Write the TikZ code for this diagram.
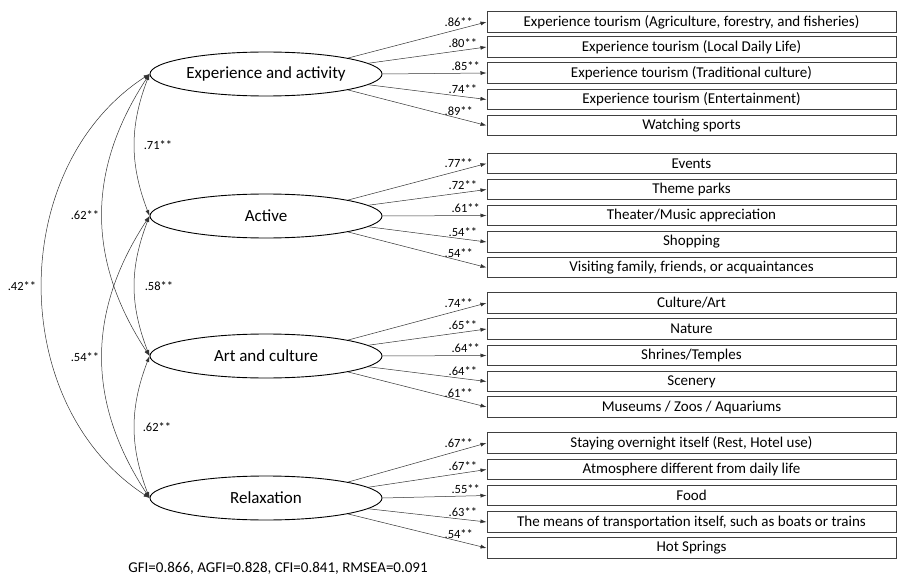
\documentclass[tikz,border=0pt]{standalone}
\usepackage{fontspec}
\setmainfont{Carlito}
\usetikzlibrary{arrows.meta,shapes.geometric}
\begin{document}
\begin{tikzpicture}[x=1pt,y=-1pt,
  latent/.style={ellipse,draw=black,line width=0.9pt,minimum width=232pt,minimum height=44pt,inner sep=0pt,font=\fontsize{17}{20}\selectfont},
  item/.style={rectangle,draw=black!75,line width=1pt,minimum width=409pt,minimum height=20.5pt,inner sep=0pt,font=\fontsize{15}{17}\selectfont},
  load/.style={draw=black!80,line width=0.5pt,-{Latex[length=6pt,width=4pt]}},
  corr/.style={draw=black!80,line width=0.5pt,{Latex[length=6pt,width=4pt]}-{Latex[length=6pt,width=4pt]}},
  coef/.style={font=\fontsize{12.5}{14}\selectfont,inner sep=1pt},
]
\useasboundingbox (0,0) rectangle (897,575);

% latent variables
\node[latent] (E1) at (266,74)  {Experience and activity};
\node[latent] (E2) at (266,216) {Active};
\node[latent] (E3) at (266,356) {Art and culture};
\node[latent] (E4) at (266,498) {Relaxation};

% observed items
\node[item] (b11) at (691.5,22)    {Experience tourism (Agriculture, forestry, and fisheries)};
\node[item] (b12) at (691.5,47)    {Experience tourism (Local Daily Life)};
\node[item] (b13) at (691.5,73)    {Experience tourism (Traditional culture)};
\node[item] (b14) at (691.5,99.5)  {Experience tourism (Entertainment)};
\node[item] (b15) at (691.5,125.5) {Watching sports};

\node[item] (b21) at (691.5,163.5) {Events};
\node[item] (b22) at (691.5,189.5) {Theme parks};
\node[item] (b23) at (691.5,215.5) {Theater/Music appreciation};
\node[item] (b24) at (691.5,242)   {Shopping};
\node[item] (b25) at (691.5,267.5) {Visiting family, friends, or acquaintances};

\node[item] (b31) at (691.5,303)   {Culture/Art};
\node[item] (b32) at (691.5,329)   {Nature};
\node[item] (b33) at (691.5,355.5) {Shrines/Temples};
\node[item] (b34) at (691.5,381.5) {Scenery};
\node[item] (b35) at (691.5,407)   {Museums / Zoos / Aquariums};

\node[item] (b41) at (691.5,443)   {Staying overnight itself (Rest, Hotel use)};
\node[item] (b42) at (691.5,469.5) {Atmosphere different from daily life};
\node[item] (b43) at (691.5,495.5) {Food};
\node[item] (b44) at (691.5,522)   {The means of transportation itself, such as boats or trains};
\node[item] (b45) at (691.5,548)   {Hot Springs};

% loadings
\draw[load] (E1.11)  -- (b11.west) node[coef,pos=0.8,above=1.5pt] (l11) {.86**};
\draw[load] (E1.6)   -- (b12.west) node[coef,pos=0.8,above=1.5pt] (l12) {.80**};
\draw[load] (E1.0)   -- (b13.west) node[coef,pos=0.8,above=1.5pt] (l13) {.85**};
\draw[load] (E1.-6)  -- (b14.west) node[coef,pos=0.8,above=1.5pt] (l14) {.74**};
\draw[load] (E1.-11) -- (b15.west) node[coef,pos=0.8,above=1.5pt] (l15) {.89**};

\draw[load] (E2.11)  -- (b21.west) node[coef,pos=0.8,above=1.5pt] (l21) {.77**};
\draw[load] (E2.6)   -- (b22.west) node[coef,pos=0.8,above=1.5pt] (l22) {.72**};
\draw[load] (E2.0)   -- (b23.west) node[coef,pos=0.8,above=1.5pt] (l23) {.61**};
\draw[load] (E2.-6)  -- (b24.west) node[coef,pos=0.8,above=1.5pt] (l24) {.54**};
\draw[load] (E2.-11) -- (b25.west) node[coef,pos=0.8,above=1.5pt] (l25) {.54**};

\draw[load] (E3.11)  -- (b31.west) node[coef,pos=0.8,above=1.5pt] (l31) {.74**};
\draw[load] (E3.6)   -- (b32.west) node[coef,pos=0.8,above=1.5pt] (l32) {.65**};
\draw[load] (E3.0)   -- (b33.west) node[coef,pos=0.8,above=1.5pt] (l33) {.64**};
\draw[load] (E3.-6)  -- (b34.west) node[coef,pos=0.8,above=1.5pt] (l34) {.64**};
\draw[load] (E3.-11) -- (b35.west) node[coef,pos=0.8,above=1.5pt] (l35) {.61**};

\draw[load] (E4.11)  -- (b41.west) node[coef,pos=0.8,above=1.5pt] (l41) {.67**};
\draw[load] (E4.6)   -- (b42.west) node[coef,pos=0.8,above=1.5pt] (l42) {.67**};
\draw[load] (E4.0)   -- (b43.west) node[coef,pos=0.8,above=1.5pt] (l43) {.55**};
\draw[load] (E4.-6)  -- (b44.west) node[coef,pos=0.8,above=1.5pt] (l44) {.63**};
\draw[load] (E4.-11) -- (b45.west) node[coef,pos=0.8,above=1.5pt] (l45) {.54**};

% correlations
\draw[corr] (E1.west) .. controls +(-20,52) and +(-20,-52) .. (E2.west)
  node[coef,midway,right=8pt] (c12) {.71**};
\draw[corr] (E1.west) .. controls +(-63,96) and +(-63,-96) .. (E3.west)
  node[coef,midway,left=2pt] (c13) {.62**};
\draw[corr] (E1.west) .. controls +(-143,93) and +(-143,-93) .. (E4.west)
  node[coef,midway,left=5pt] (c14) {.42**};
\draw[corr] (E2.west) .. controls +(-20,52) and +(-20,-52) .. (E3.west)
  node[coef,midway,right=9pt] (c23) {.58**};
\draw[corr] (E2.west) .. controls +(-63,96) and +(-63,-96) .. (E4.west)
  node[coef,midway,left=2pt] (c24) {.54**};
\draw[corr] (E3.west) .. controls +(-20,52) and +(-20,-52) .. (E4.west)
  node[coef,midway,right=7pt] (c34) {.62**};

% fit indices
\node[font=\fontsize{15}{17}\selectfont] (fit) at (278,568) {GFI=0.866, AGFI=0.828, CFI=0.841, RMSEA=0.091};
\end{tikzpicture}
\end{document}
